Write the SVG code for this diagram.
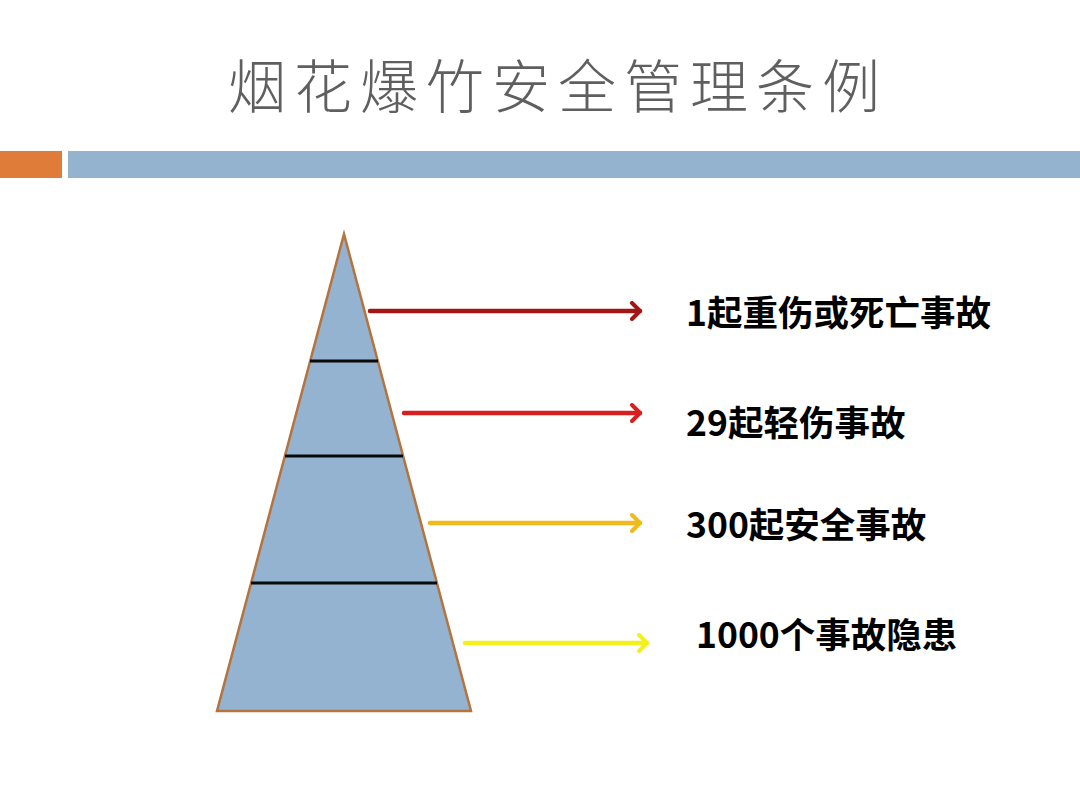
<svg xmlns="http://www.w3.org/2000/svg" width="1080" height="810" viewBox="0 0 1080 810">
<defs>
<style>
.title{font-family:"Noto Sans CJK SC","Noto Sans",sans-serif;font-weight:300;font-size:58px;fill:#5f5f5f;letter-spacing:8px}
.lbl{font-family:"Noto Sans CJK SC","Liberation Sans",sans-serif;font-weight:700;font-size:35.5px;fill:#000}
.div{stroke:#0a0a0a;stroke-width:3}
.arr{stroke-width:4.5;fill:none;stroke-linecap:round;stroke-linejoin:round}
</style>
<marker id="mk1" viewBox="0 0 20 20" refX="17" refY="10" markerWidth="20" markerHeight="20" markerUnits="userSpaceOnUse" orient="auto"><path d="M9,2 L17,10 L9,18" fill="none" stroke="#a31616" stroke-width="4" stroke-linecap="round" stroke-linejoin="round"/></marker>
<marker id="mk2" viewBox="0 0 20 20" refX="17" refY="10" markerWidth="20" markerHeight="20" markerUnits="userSpaceOnUse" orient="auto"><path d="M9,2 L17,10 L9,18" fill="none" stroke="#d81f1f" stroke-width="4" stroke-linecap="round" stroke-linejoin="round"/></marker>
<marker id="mk3" viewBox="0 0 20 20" refX="17" refY="10" markerWidth="20" markerHeight="20" markerUnits="userSpaceOnUse" orient="auto"><path d="M9,2 L17,10 L9,18" fill="none" stroke="#f0b91c" stroke-width="4" stroke-linecap="round" stroke-linejoin="round"/></marker>
<marker id="mk4" viewBox="0 0 20 20" refX="17" refY="10" markerWidth="20" markerHeight="20" markerUnits="userSpaceOnUse" orient="auto"><path d="M9,2 L17,10 L9,18" fill="none" stroke="#f4f01c" stroke-width="4" stroke-linecap="round" stroke-linejoin="round"/></marker>
</defs>
<rect width="1080" height="810" fill="#fff"/>
<text class="title" x="228" y="108">烟花爆竹安全管理条例</text>
<rect x="0" y="151" width="62" height="27" fill="#e07c3a"/>
<rect x="68" y="151" width="1012" height="27" fill="#94b3cf"/>
<g id="pyramid">
<polygon points="344,234 217,711 471,711" fill="#94b3d0" stroke="#b5733e" stroke-width="2.5"/>
<line class="div" x1="310" y1="361" x2="378" y2="361"/>
<line class="div" x1="285" y1="456" x2="403" y2="456"/>
<line class="div" x1="251" y1="583" x2="437" y2="583"/>
</g>
<g id="connectors">
<line class="arr" x1="370" y1="311" x2="640" y2="311" stroke="#a31616" marker-end="url(#mk1)"/>
<line class="arr" x1="404" y1="413" x2="640" y2="413" stroke="#d81f1f" marker-end="url(#mk2)"/>
<line class="arr" x1="430" y1="523" x2="640" y2="523" stroke="#f0b91c" marker-end="url(#mk3)"/>
<line class="arr" x1="465" y1="643" x2="647" y2="643" stroke="#f4f01c" marker-end="url(#mk4)"/>
</g>
<g id="label1"><text class="lbl" x="686" y="326">1起重伤或死亡事故</text></g>
<g id="label2"><text class="lbl" x="686" y="436">29起轻伤事故</text></g>
<g id="label3"><text class="lbl" x="686" y="538">300起安全事故</text></g>
<g id="label4"><text class="lbl" x="696" y="648">1000个事故隐患</text></g>
</svg>
